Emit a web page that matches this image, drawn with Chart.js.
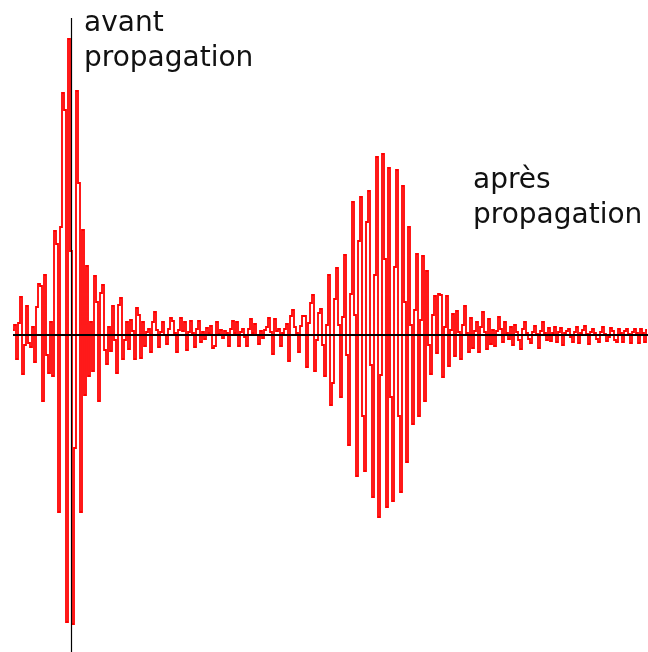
<!DOCTYPE html>
<html lang="fr">
<head>
<meta charset="utf-8">
<title>Signal avant et après propagation</title>
<script src="https://cdn.jsdelivr.net/npm/chart.js@4/dist/chart.umd.min.js"></script>
<style>
  html, body { margin: 0; padding: 0; background: #ffffff; }
  #wrap { position: relative; width: 648px; height: 652px; overflow: hidden; }
  #plot { position: absolute; left: 0; top: 0; }
  .lbl {
    position: absolute;
    font-family: "DejaVu Sans", sans-serif;
    font-size: 28px;
    line-height: 35px;
    color: #111111;
    white-space: nowrap;
  }
</style>
</head>
<body>
<div id="wrap">
  <canvas id="plot" width="648" height="652"></canvas>
  <div class="lbl" id="lblAvant" style="left:84px; top:4px;">avant<br>propagation</div>
  <div class="lbl" id="lblApres" style="left:473px; top:161px;">après<br>propagation</div>
</div>
<script>
// Recorded amplitude, one sample per time step (arbitrary units, 0 = rest level).
// First burst: the emitted pulse; second burst: the same pulse after propagation.
const amplitude = [
  5, 10, -24, 12, 38, -39, -10, 29, -8, -12,
  8, -27, 28, 51, 49, -66, 60, -20, -38, 13,
  -41, 104, 91, -177, 108, 242, 225, -287, 296, 84,
  -289, -113, 244, 152, -177, 105, -60, 69, -41, 13,
  -36, 59, 33, -66, 42, 50, -15, -29, 8, -16,
  29, -5, -38, 30, 37, -24, -5, 13, -14, 15,
  4, -24, 27, 20, -23, 13, -11, 3, 6, -17,
  13, 23, 5, -12, 3, 13, 0, -9, 6, 17,
  14, 2, -17, 5, 17, 4, 13, -15, 3, 14,
  2, -12, 6, 14, -7, 3, -4, 7, 2, 9,
  -13, -11, 13, 1, 5, -3, 4, 2, -11, 6,
  14, 2, 13, -11, 3, 6, -2, -11, 6, 16,
  2, 11, 0, -9, 4, -3, 5, 8, 17, 3,
  -19, 16, 4, 6, -11, 2, 6, 11, -26, 19,
  25, 8, 2, -17, 9, 19, 19, -32, 12, 32,
  40, -36, -5, 22, 26, -10, -41, 10, 60, -70,
  -48, 36, 67, 10, -62, 18, 80, -20, -110, 41,
  133, 20, -141, 94, 138, -81, -136, 113, 144, -30,
  -162, 60, 178, -182, -40, 181, 76, -172, 167, -62,
  -166, 68, 165, -81, -157, 149, 33, -127, 108, 10,
  -89, 25, 81, -81, 15, 79, -66, 64, -10, -39,
  20, 39, -18, 41, 40, -42, 8, 39, -31, 5,
  21, -21, 24, 3, -24, 10, 29, 2, -17, 17,
  -13, 4, 13, -17, 8, 23, 3, -14, 16, -9,
  5, -11, 4, 18, 6, -7, 13, 2, -4, 8,
  -10, 10, 3, -5, -14, 6, 13, 2, -4, -8,
  3, 9, 1, -13, 4, 13, 2, -5, 7, -6,
  2, 8, -7, 3, 7, -10, 2, 4, 6, -2,
  -7, 3, 8, -8, 2, 5, 9, 1, -9, 3,
  6, 2, -4, -7, 3, 8, 1, -6, -2, 7,
  4, -5, -7, 6, 2, -7, 4, 6, 1, -8,
  3, 6, 2, -8, 6, 2, -7, 5
];

// Sample numbers used as the time axis.
const sampleIndex = amplitude.map((_, i) => i);

// Time origin (sample where the vertical axis is drawn) and its upper end.
const originSample = 29;
const verticalAxisTop = 317;

// Vertical extent of the plot in amplitude units.
const amplitudeMin = -317;
const amplitudeMax = 335;

// Black axes drawn on top of the trace.
const crossAxes = {
  id: 'crossAxes',
  afterDatasetsDraw(chart) {
    const { ctx, scales: { x, y } } = chart;
    const y0 = Math.round(y.getPixelForValue(0));
    const xo = Math.round(x.getPixelForValue(originSample)) + 0.5;
    ctx.save();
    ctx.strokeStyle = '#000000';
    ctx.lineCap = 'butt';
    ctx.lineWidth = 2;
    ctx.beginPath();
    ctx.moveTo(x.left, y0);
    ctx.lineTo(x.right + 1, y0);
    ctx.stroke();
    ctx.lineWidth = 1.2;
    ctx.beginPath();
    ctx.moveTo(xo, y.getPixelForValue(verticalAxisTop));
    ctx.lineTo(xo, y.bottom);
    ctx.stroke();
    ctx.restore();
  }
};

new Chart(document.getElementById('plot'), {
  type: 'line',
  data: {
    labels: sampleIndex,
    datasets: [{
      data: amplitude,
      borderColor: '#ff0000',
      borderWidth: 1.8,
      pointRadius: 0,
      stepped: 'middle',
      fill: false
    }]
  },
  options: {
    responsive: false,
    devicePixelRatio: 1,
    animation: false,
    events: [],
    layout: { padding: { left: 13, right: 1, top: 0, bottom: 0 } },
    plugins: { legend: { display: false }, tooltip: { enabled: false } },
    scales: {
      x: { type: 'category', display: false, offset: false },
      y: { type: 'linear', display: false, min: amplitudeMin, max: amplitudeMax }
    }
  },
  plugins: [crossAxes]
});
</script>
</body>
</html>
